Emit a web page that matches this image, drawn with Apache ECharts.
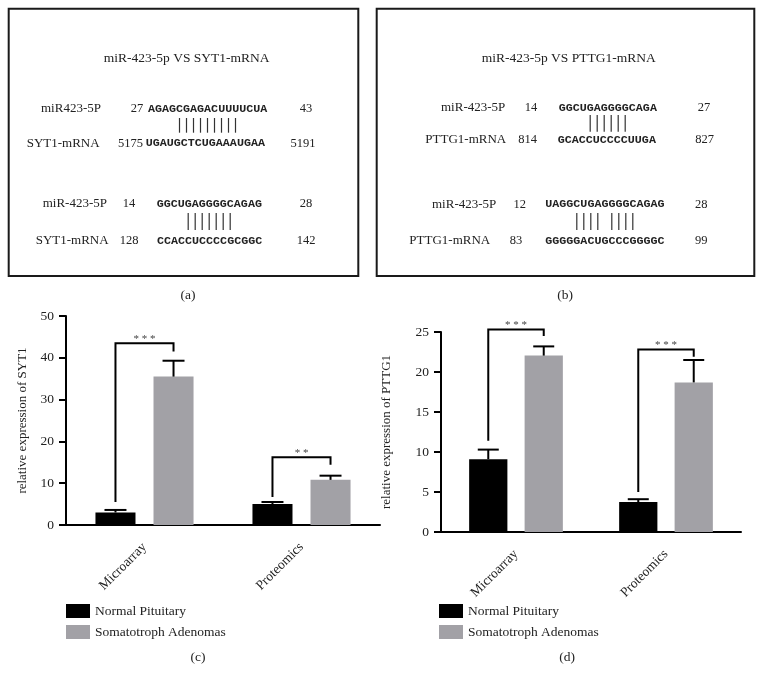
<!DOCTYPE html>
<html>
<head>
<meta charset="utf-8">
<script src="https://cdn.jsdelivr.net/npm/echarts@6/dist/echarts.min.js"></script>
<style>html,body{margin:0;padding:0;background:#fff}#c{width:764px;height:684px}</style>
</head>
<body>
<div id="c"></div>
<script>
// ---------- data ----------
const categories = ['Microarray', 'Proteomics'];
const seriesNames = ['Normal Pituitary', 'Somatotroph Adenomas'];

const syt1Normal = [3.0, 5.0];
const syt1NormalErr = [0.6, 0.5];
const syt1Adenoma = [35.5, 10.8];
const syt1AdenomaErr = [3.8, 1.0];
const syt1Sig = ['* * *', '* *'];
const syt1BracketTop = [43.5, 16.2];
const syt1BracketLeft = [5.5, 6.7];
const syt1BracketRight = [41.5, 14.4];

const pttg1Normal = [9.1, 3.75];
const pttg1NormalErr = [1.2, 0.35];
const pttg1Adenoma = [22.05, 18.7];
const pttg1AdenomaErr = [1.15, 2.8];
const pttg1Sig = ['* * *', '* * *'];
const pttg1BracketTop = [25.3, 22.8];
const pttg1BracketLeft = [11.4, 5.0];
const pttg1BracketRight = [24.5, 21.9];

const syt1Ticks = {min: 0, max: 50, interval: 10};
const pttg1Ticks = {min: 0, max: 25, interval: 5};

const titleA = 'miR-423-5p VS SYT1-mRNA';
const titleB = 'miR-423-5p VS PTTG1-mRNA';
const rowsA = [
  ['miR423-5P', '27', 'AGAGCGAGACUUUUCUA', '43'],
  ['SYT1-mRNA', '5175', 'UGAUGCTCUGAAAUGAA', '5191'],
  ['miR-423-5P', '14', 'GGCUGAGGGGCAGAG', '28'],
  ['SYT1-mRNA', '128', 'CCACCUCCCCGCGGC', '142']
];
const matchA = ['    |||||||||', '    |||||||'];
const rowsB = [
  ['miR-423-5P', '14', 'GGCUGAGGGGCAGA', '27'],
  ['PTTG1-mRNA', '814', 'GCACCUCCCCUUGA', '827'],
  ['miR-423-5P', '12', 'UAGGCUGAGGGGCAGAG', '28'],
  ['PTTG1-mRNA', '83', 'GGGGGACUGCCCGGGGC', '99']
];
const matchB = ['    ||||||', '    |||| ||||'];

// ---------- layout ----------
const FONT = 'Liberation Serif';
const MONO = 'Liberation Mono';
const TXT = '#222';
const GRAY = '#a2a1a6';
const CHW = 7.0;
// [labelLeft, startCenter, seqLeft, endCenter, y]
const posA = [[41,137,148,306,109],[26.7,130.5,145.7,303,143.3],[42.7,129,156.7,306,204],[35.7,129,157,306,240.7]];
const posB = [[441,531,558.7,704,107.7],[425.3,527.5,557.7,704.7,140],[432,519.7,545.3,701.3,204.3],[409.3,516,545.3,701.3,240.7]];
// [seqLeft, y1, y2]
const mposA = [[148,118,132.7],[156.7,213,230]];
const mposB = [[558.7,115,131.7],[545.3,213,230]];

const graphics = [];
function txt(text, x, y, align, font) {
  graphics.push({type:'text', x:x, y:y, silent:true,
    style:{text:text, font:font || ('13.5px "' + FONT + '"'), fill:TXT, textAlign:align, textVerticalAlign:'middle'}});
}
function box(x1, y1, x2, y2) {
  graphics.push({type:'rect', silent:true, shape:{x:x1, y:y1, width:x2-x1, height:y2-y1},
    style:{fill:'none', stroke:'#1a1a1a', lineWidth:2}});
}
function panel(title, cx, rows, pos, matches, mpos) {
  txt(title, cx, 58, 'center');
  rows.forEach((r, i) => {
    const p = pos[i];
    txt(r[0], p[0], p[4], 'left', '13px "' + FONT + '"');
    txt(r[1], p[1], p[4], 'center', '12.5px "' + FONT + '"');
    txt(r[2], p[2], p[4], 'left', 'bold 11.7px "' + MONO + '"');
    txt(r[3], p[3], p[4], 'center', '12.5px "' + FONT + '"');
  });
  matches.forEach((m, j) => {
    const mp = mpos[j];
    for (let k = 0; k < m.length; k++) {
      if (m[k] === '|') {
        const x = mp[0] + (k + 0.5) * CHW;
        graphics.push({type:'line', silent:true, shape:{x1:x, y1:mp[1], x2:x, y2:mp[2]},
          style:{stroke:'#333', lineWidth:1.2}});
      }
    }
  });
}
box(8.7, 8.7, 358.3, 276);
box(376.7, 8.7, 754.3, 276);
panel(titleA, 186.7, rowsA, posA, matchA, mposA);
panel(titleB, 568.7, rowsB, posB, matchB, mposB);
txt('(a)', 188, 295, 'center');
txt('(b)', 565, 295, 'center');
txt('(c)', 198, 657, 'center');
txt('(d)', 567, 657, 'center');

// ---------- chart ----------
const BW = 0.255, GAP = 0.45;
const OFF = (BW + BW * GAP) / 2;

function errSeries(idx, vals, errs, sign) {
  return {
    type:'custom', xAxisIndex:idx, yAxisIndex:idx, z:5, silent:true,
    data: vals.map((v, i) => [i, v, errs[i]]),
    renderItem: function (params, api) {
      const c = api.value(0), v = api.value(1), e = api.value(2);
      const p1 = api.coord([c, v]), p2 = api.coord([c, v + e]);
      const band = api.size([1, 0])[0];
      const x = p1[0] + sign * band * OFF;
      const h = band * 0.07;
      const st = {stroke:'#000', lineWidth:2};
      return {type:'group', children:[
        {type:'line', shape:{x1:x, y1:p1[1], x2:x, y2:p2[1]}, style:st},
        {type:'line', shape:{x1:x-h, y1:p2[1], x2:x+h, y2:p2[1]}, style:st}
      ]};
    }
  };
}
function bracketSeries(idx, top, left, right, sig) {
  return {
    type:'custom', xAxisIndex:idx, yAxisIndex:idx, z:6, silent:true, clip:false,
    data: top.map((t, i) => [i, t, left[i], right[i]]),
    renderItem: function (params, api) {
      const c = api.value(0);
      const pt = api.coord([c, api.value(1)]);
      const pl = api.coord([c, api.value(2)]);
      const pr = api.coord([c, api.value(3)]);
      const band = api.size([1, 0])[0];
      const xl = pt[0] - band * OFF, xr = pt[0] + band * OFF;
      return {type:'group', children:[
        {type:'polyline', shape:{points:[[xl, pl[1]], [xl, pt[1]], [xr, pt[1]], [xr, pr[1]]]},
          style:{stroke:'#000', lineWidth:2, fill:'none'}},
        {type:'text', x:pt[0], y:pt[1] + 1,
          style:{text:sig[params.dataIndex], font:'11px "' + FONT + '"', fill:'#444',
            textAlign:'center', textVerticalAlign:'bottom'}}
      ]};
    }
  };
}
function xAx(idx) {
  return {gridIndex:idx, type:'category', data:categories,
    axisLine:{lineStyle:{color:'#000', width:2}},
    axisTick:{alignWithLabel:true, length:8, lineStyle:{color:'#000', width:2}},
    axisLabel:{rotate:45, fontSize:13.5, color:TXT, fontFamily:FONT, margin:20},
    splitLine:{show:false}};
}
function yAx(idx, t, name, gap) {
  return {gridIndex:idx, type:'value', min:t.min, max:t.max, interval:t.interval,
    name:name, nameLocation:'middle', nameGap:gap,
    nameTextStyle:{fontSize:13, color:TXT, fontFamily:FONT},
    axisLine:{show:true, lineStyle:{color:'#000', width:2}},
    axisTick:{show:true, length:7, lineStyle:{color:'#000', width:2}},
    axisLabel:{fontSize:13.5, color:TXT, fontFamily:FONT, margin:12},
    splitLine:{show:false}};
}
function barS(idx, name, vals, color) {
  return {type:'bar', name:name, xAxisIndex:idx, yAxisIndex:idx, data:vals,
    barWidth:(BW*100)+'%', barGap:(GAP*100)+'%', itemStyle:{color:color}, silent:true};
}
function legend(left) {
  return {left:left, top:599, orient:'vertical', icon:'rect', itemWidth:24, itemHeight:14, itemGap:7,
    selectedMode:false, data:seriesNames,
    textStyle:{fontSize:13.5, color:TXT, fontFamily:FONT, lineHeight:14}};
}

const option = {
  animation:false,
  textStyle:{fontFamily:FONT},
  grid:[{left:66, top:316, width:314, height:209}, {left:441, top:332, width:300, height:200}],
  xAxis:[xAx(0), xAx(1)],
  yAxis:[yAx(0, syt1Ticks, 'relative expression of SYT1', 37), yAx(1, pttg1Ticks, 'relative expression of PTTG1', 48)],
  legend:[legend(61), legend(434)],
  graphic:graphics,
  series:[
    barS(0, seriesNames[0], syt1Normal, '#000'),
    barS(0, seriesNames[1], syt1Adenoma, GRAY),
    barS(1, seriesNames[0], pttg1Normal, '#000'),
    barS(1, seriesNames[1], pttg1Adenoma, GRAY),
    errSeries(0, syt1Normal, syt1NormalErr, -1),
    errSeries(0, syt1Adenoma, syt1AdenomaErr, 1),
    errSeries(1, pttg1Normal, pttg1NormalErr, -1),
    errSeries(1, pttg1Adenoma, pttg1AdenomaErr, 1),
    bracketSeries(0, syt1BracketTop, syt1BracketLeft, syt1BracketRight, syt1Sig),
    bracketSeries(1, pttg1BracketTop, pttg1BracketLeft, pttg1BracketRight, pttg1Sig)
  ]
};
const chart = echarts.init(document.getElementById('c'), null, {renderer:'canvas'});
chart.setOption(option);
</script>
</body>
</html>
